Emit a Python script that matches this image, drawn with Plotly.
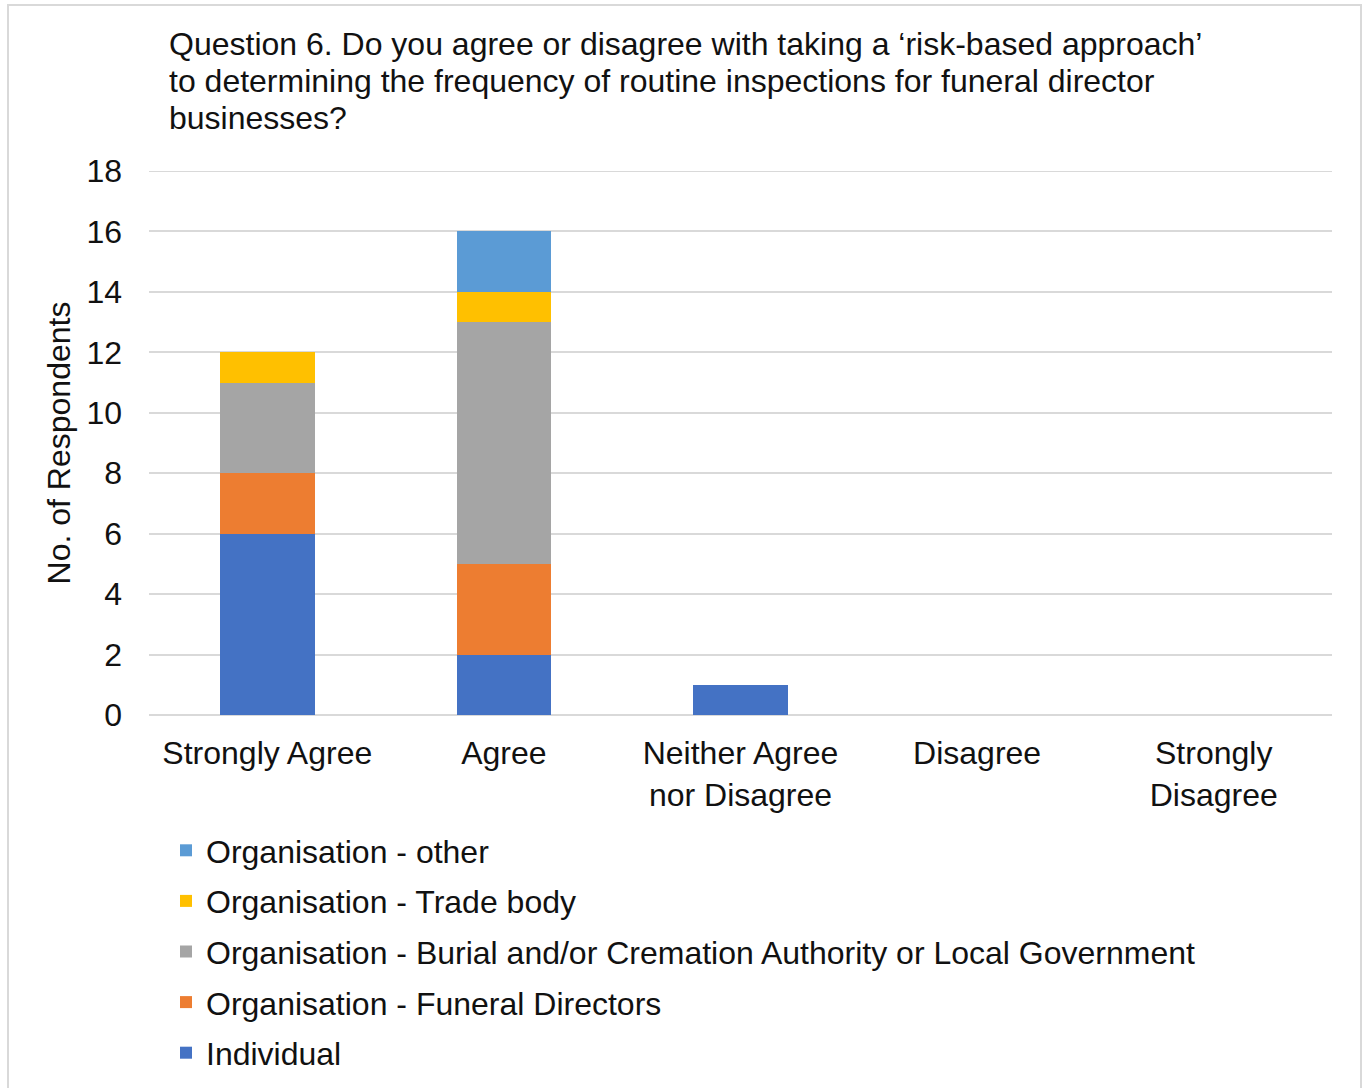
import plotly.graph_objects as go

# Response categories along the x axis
categories = ["Strongly Agree", "Agree", "Neither Agree<br>nor Disagree",
              "Disagree", "Strongly<br>Disagree"]

# Respondent counts per category, by respondent type
individual = [6, 2, 1, 0, 0]
funeral_directors = [2, 3, 0, 0, 0]
burial_cremation_lg = [3, 8, 0, 0, 0]
trade_body = [1, 1, 0, 0, 0]
org_other = [0, 2, 0, 0, 0]

series = [
    ("Individual", individual, "#4472C4"),
    ("Organisation - Funeral Directors", funeral_directors, "#ED7D31"),
    ("Organisation - Burial and/or Cremation Authority or Local Government",
     burial_cremation_lg, "#A5A5A5"),
    ("Organisation - Trade body", trade_body, "#FFC000"),
    ("Organisation - other", org_other, "#5B9BD5"),
]

y_max = 18
y_ticks = list(range(0, y_max + 1, 2))

title_lines = [
    "Question 6. Do you agree or disagree with taking a \u2018risk-based approach\u2019",
    "to determining the frequency of routine inspections for funeral director",
    "businesses?",
]

FONT = "Liberation Sans, Arial, sans-serif"
TXT = "#111111"
GRID = "#D9D9D9"

W, H = 1367, 1088
L, R, T, B = 149, 1332, 171, 715


def px_x(px):
    return (px - L) / (R - L)


def px_y(py):
    return (B - py) / (B - T)


fig = go.Figure()
n = len(series)
for i, (name, vals, color) in enumerate(series):
    # stack bottom-up, list top-down in the legend
    fig.add_trace(go.Bar(
        x=categories, y=vals, name=name, marker_color=color,
        marker_line_width=0, legendgroup=f"g{i}", legendrank=n - i,
    ))

annotations = []
for k, line in enumerate(title_lines):
    annotations.append(dict(
        text=line, xref="paper", yref="paper", x=px_x(167), y=px_y(44 + 37 * k),
        xanchor="left", yanchor="middle", showarrow=False,
        font=dict(family=FONT, size=32, color=TXT),
    ))

fig.update_layout(
    width=W, height=H,
    margin=dict(l=L, r=W - R, t=T, b=H - B, pad=0, autoexpand=False),
    paper_bgcolor="white", plot_bgcolor="white",
    barmode="stack", bargap=0.6,
    font=dict(family=FONT, size=32, color=TXT),
    annotations=annotations,
    showlegend=True,
    legend=dict(
        orientation="v", traceorder="grouped", tracegroupgap=6,
        x=px_x(166), xanchor="left", y=px_y(823), yanchor="top",
        font=dict(family=FONT, size=32, color=TXT),
        bgcolor="rgba(0,0,0,0)",
    ),
    xaxis=dict(
        showgrid=False, showline=False, zeroline=False,
        tickfont=dict(family=FONT, size=32, color=TXT),
        ticklabelstandoff=16,
    ),
    yaxis=dict(
        range=[0, y_max], tickvals=y_ticks, showgrid=True, gridcolor=GRID,
        gridwidth=2, zeroline=True, zerolinecolor=GRID, zerolinewidth=2,
        showline=False, tickfont=dict(family=FONT, size=32, color=TXT),
        ticklabelstandoff=26,
        title=dict(text="No. of Respondents", standoff=6,
                   font=dict(family=FONT, size=32, color=TXT)),
    ),
    shapes=[
        dict(type="rect", xref="paper", yref="paper",
             x0=px_x(8), x1=px_x(1361), y0=px_y(1100), y1=px_y(5),
             line=dict(color=GRID, width=2), fillcolor="rgba(0,0,0,0)",
             layer="below"),
        # gridline at the top of the value range
        dict(type="line", xref="paper", yref="y", x0=0, x1=1,
             y0=y_max, y1=y_max, line=dict(color=GRID, width=2),
             layer="below"),
    ],
)

fig.write_html("out.html")
